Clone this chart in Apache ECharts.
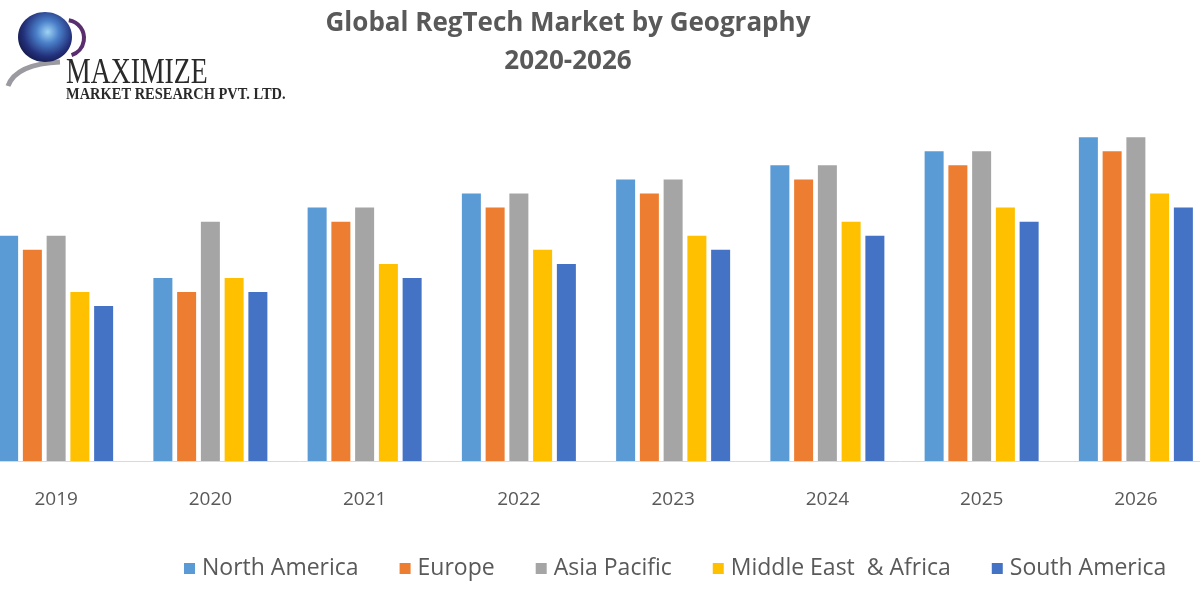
<!DOCTYPE html>
<html>
<head>
<meta charset="utf-8">
<script src="https://cdn.jsdelivr.net/npm/echarts@6/dist/echarts.min.js"></script>
<style>html,body{margin:0;padding:0;background:#fff}#c{width:1200px;height:600px}</style>
</head>
<body>
<div id="c"></div>
<script>
const years = ['2019','2020','2021','2022','2023','2024','2025','2026'];
const seriesNames = ['North America','Europe','Asia Pacific','Middle East  & Africa','South America'];
const northAmerica = [16,13,18,19,20,21,22,23];
const europe = [15,12,17,18,19,20,21,22];
const asiaPacific = [16,17,18,19,20,21,22,23];
const middleEastAfrica = [12,13,14,15,16,17,18,19];
const southAmerica = [11,12,13,14,15,16,17,18];
const colors = ['#5B9BD5','#ED7D31','#A5A5A5','#FFC000','#4472C4'];
const values = [northAmerica, europe, asiaPacific, middleEastAfrica, southAmerica];

const chart = echarts.init(document.getElementById('c'), null, {renderer:'canvas'});
const series = seriesNames.map((n,i)=>({
  name:n, type:'bar', data: values[i], barWidth:19, barGap:'25%',
  itemStyle:{color:colors[i]}, emphasis:{disabled:true}
}));
chart.setOption({
  animation:false,
  backgroundColor:'#ffffff',
  color: colors,
  title:{
    text:'Global RegTech Market by Geography\n2020-2026',
    left:563, textAlign:'center', top:0,
    textStyle:{fontFamily:'Open Sans', fontWeight:'bold', fontSize:26, color:'#595959', lineHeight:38}
  },
  legend:{
    left:179, top:552, itemWidth:11, itemHeight:11, itemGap:41,
    icon:'rect',
    textStyle:{fontFamily:'Open Sans', fontSize:23, color:'#595959', padding:[0,0,0,2]},
    data: seriesNames
  },
  grid:{left:-21, right:-13, top:109, bottom:139, outerBoundsMode:'none', containLabel:false},
  xAxis:{
    type:'category', data: years,
    axisLine:{show:true, lineStyle:{color:'#D9D9D9', width:1}},
    axisTick:{show:false},
    axisLabel:{fontFamily:'Open Sans', fontSize:19, color:'#595959', margin:29}
  },
  yAxis:{type:'value', min:0, max:25, show:false, splitLine:{show:false}},
  series: series,
  graphic:[
    {type:'bezierCurve', shape:{x1:8, y1:86, cpx1:16, cpy1:64, x2:60, y2:62}, style:{stroke:'#9a9aa0', lineWidth:5, fill:null}},
    {type:'ellipse', shape:{cx:45, cy:37, rx:27, ry:25},
      style:{fill:{type:'radial', x:0.55, y:0.4, r:0.65, colorStops:[{offset:0,color:'#9fd3f5'},{offset:0.35,color:'#4a7fc9'},{offset:0.75,color:'#23307a'},{offset:1,color:'#141a4a'}]}}},
    {type:'arc', shape:{cx:66, cy:38, r:18, startAngle:-Math.PI*0.45, endAngle:Math.PI*0.4}, style:{stroke:'#5a2d6e', lineWidth:4, fill:null}},
    {type:'text', x:66, y:56, scaleX:0.77, style:{text:'MAXIMIZE', font:'36px "Liberation Serif"', fill:'#2a2a2a'}},
    {type:'text', x:66, y:86, scaleX:0.85, style:{text:'MARKET RESEARCH PVT. LTD.', font:'bold 17px "Liberation Serif"', fill:'#2a2a2a'}}
  ]
});
</script>
</body>
</html>
